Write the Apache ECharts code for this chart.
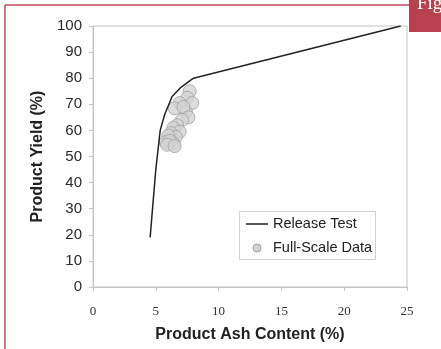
<!DOCTYPE html>
<html><head><meta charset="utf-8">
<script src="https://cdn.jsdelivr.net/npm/echarts@6/dist/echarts.min.js"></script>
<style>html,body{margin:0;padding:0;background:#fff}#c{width:441px;height:349px}</style>
</head><body><div id="c"></div>
<script>
// Release Test curve
var releaseX = [4.55, 5.0, 5.35, 5.7, 6.3, 7.0, 8.0, 24.5];
var releaseY = [19, 45, 60, 66, 73, 76.5, 80, 100];
// Full-scale data points
var fullX = [7.7, 7.5, 7.9, 6.9, 6.5, 7.4, 7.2, 7.6, 7.1, 6.7, 6.4, 6.9, 6.2, 6.6, 6.0, 6.4, 5.8, 6.1, 5.9, 6.5];
var fullY = [75, 72.5, 70.5, 70.5, 68.5, 67, 69, 65, 64, 62, 61, 59.5, 59, 57.5, 58, 55, 55.5, 56, 54.5, 54];
var xTicks = [0, 5, 10, 15, 20, 25];
var yTicks = [0, 10, 20, 30, 40, 50, 60, 70, 80, 90, 100];
var legendNames = ['Release Test', 'Full-Scale Data'];

var chart = echarts.init(document.getElementById('c'));
var axisCol = '#c4c4c4';
var sans = 'Liberation Sans';
chart.setOption({
  animation: false,
  grid: {left: 93, right: 34, top: 26, bottom: 62, show: true, borderColor: axisCol, borderWidth: 1},
  xAxis: {
    type: 'value', min: xTicks[0], max: xTicks[xTicks.length - 1], interval: 5,
    name: 'Product Ash Content (%)', nameLocation: 'middle', nameGap: 40,
    nameTextStyle: {fontFamily: sans, fontWeight: 'bold', fontSize: 16, color: '#222'},
    axisLine: {show: true, lineStyle: {color: axisCol}},
    axisTick: {show: true, length: 4, inside: false, lineStyle: {color: axisCol}},
    axisLabel: {fontFamily: 'Liberation Serif', fontSize: 13, color: '#333', margin: 18},
    splitLine: {show: false}
  },
  yAxis: {
    type: 'value', min: yTicks[0], max: yTicks[yTicks.length - 1], interval: 10,
    name: 'Product Yield (%)', nameLocation: 'middle', nameGap: 44, nameRotate: 90,
    nameTextStyle: {fontFamily: sans, fontWeight: 'bold', fontSize: 16, color: '#222'},
    axisLine: {show: true, lineStyle: {color: axisCol}},
    axisTick: {show: true, length: 4, lineStyle: {color: axisCol}},
    axisLabel: {fontFamily: sans, fontSize: 15, color: '#2a2a2a', margin: 11},
    splitLine: {show: false}
  },
  series: [
    {
      name: legendNames[1], type: 'scatter', symbol: 'circle', symbolSize: 13,
      itemStyle: {color: '#d3d3d3', borderColor: '#a0a0a0', borderWidth: 1},
      data: fullX.map(function (x, i) { return [x, fullY[i]]; }), z: 2
    },
    {
      name: legendNames[0], type: 'line', symbol: 'none', smooth: false,
      lineStyle: {color: '#222', width: 1.5}, itemStyle: {color: '#222'},
      data: releaseX.map(function (x, i) { return [x, releaseY[i]]; }), z: 3
    }
  ],
  graphic: [
    {type: 'line', shape: {x1: 5, y1: 5, x2: 5, y2: 349}, style: {stroke: '#c04a5a', lineWidth: 1.5}},
    {type: 'line', shape: {x1: 5, y1: 5, x2: 411, y2: 5}, style: {stroke: '#c04a5a', lineWidth: 1.5}},
    {type: 'rect', shape: {x: 409, y: 0, width: 32, height: 32}, style: {fill: '#b9404f'}},
    {type: 'text', x: 417, y: 14, style: {text: 'Fig', fill: '#fff', font: '19px "Liberation Serif"', verticalAlign: 'bottom'}},
    // legend
    {type: 'rect', z: 10, shape: {x: 239.5, y: 211.5, width: 136, height: 48}, style: {fill: '#fff', stroke: '#d0d0d0', lineWidth: 1}},
    {type: 'line', z: 11, shape: {x1: 246, y1: 224, x2: 268, y2: 224}, style: {stroke: '#222', lineWidth: 1.5}},
    {type: 'circle', z: 11, shape: {cx: 257, cy: 248, r: 4}, style: {fill: '#d3d3d3', stroke: '#a0a0a0', lineWidth: 1}},
    {type: 'text', z: 11, x: 273, y: 224, style: {text: legendNames[0], fill: '#222', font: '14.5px "Liberation Sans"', verticalAlign: 'middle'}},
    {type: 'text', z: 11, x: 273, y: 248, style: {text: legendNames[1], fill: '#222', font: '14.5px "Liberation Sans"', verticalAlign: 'middle'}}
  ]
});
</script></body></html>
